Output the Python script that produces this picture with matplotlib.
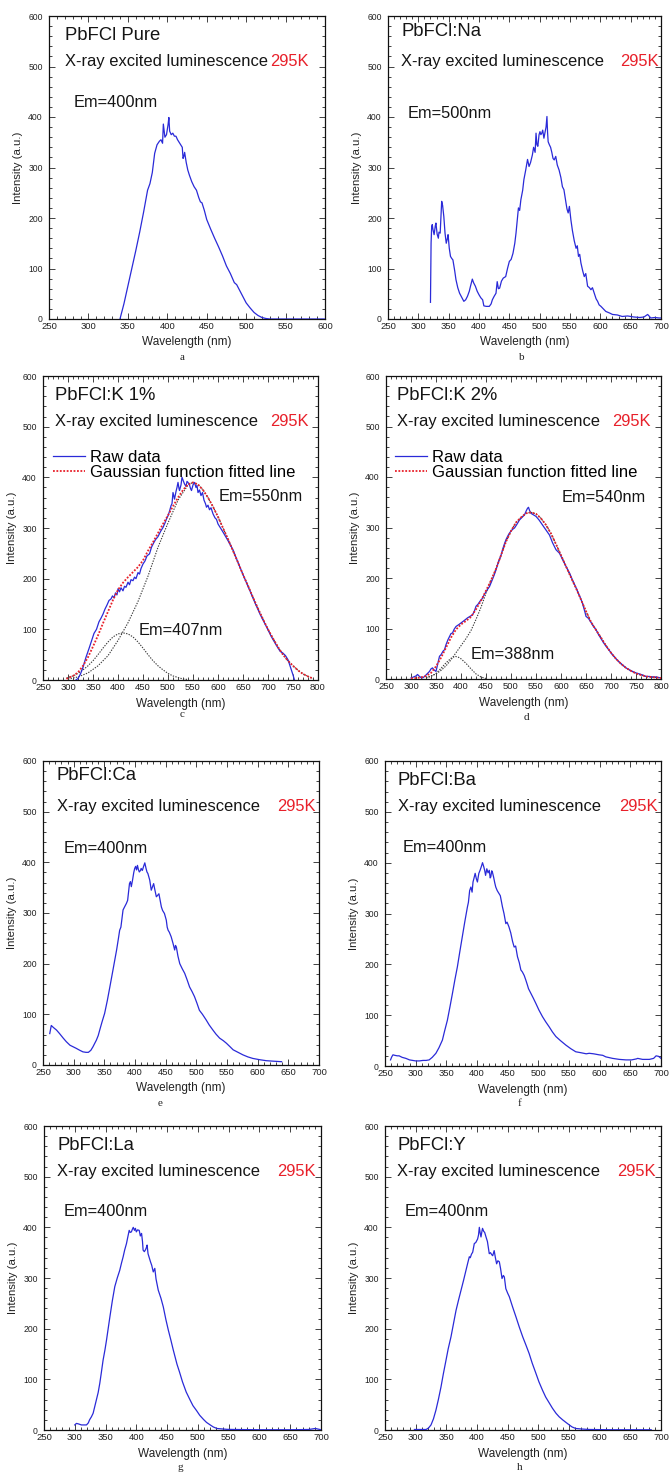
import matplotlib
matplotlib.use("Agg")
import matplotlib.pyplot as plt
from matplotlib.ticker import MultipleLocator

plt.rcParams['font.family'] = ['Liberation Sans', 'DejaVu Sans']

# ---------------- data (wavelength nm, intensity a.u.) ----------------
pure_spectrum = [(340, 0), (345, 30), (350, 65), (355, 100), (360, 135), (365, 172), (370, 212),
    (375, 255), (378, 268), (381, 290), (384, 328), (387, 345), (390, 352), (392, 355), (394, 348),
    (395, 386), (397, 360), (399, 365), (401, 385), (402, 399), (403, 372), (405, 365), (407, 368),
    (409, 362), (411, 362), (413, 355), (415, 350), (417, 345), (419, 340), (420, 318), (421, 322),
    (422, 330), (424, 310), (426, 295), (428, 285), (431, 272), (434, 262), (437, 255), (440, 240),
    (442, 232), (444, 230), (447, 215), (450, 197), (455, 178), (460, 160), (465, 143), (470, 125),
    (475, 105), (480, 90), (485, 72), (488, 68), (490, 62), (495, 47), (500, 32), (505, 22),
    (510, 13), (515, 7), (520, 3), (525, 1), (530, 0), (550, 0), (575, 0), (600, 0)]

na_spectrum = [(320, 33), (321, 150), (322, 183), (323, 187), (324, 178), (326, 167), (328, 185),
    (329, 190), (331, 168), (333, 160), (334, 172), (336, 170), (338.5, 233), (340, 225), (342, 203),
    (344, 170), (346, 150), (348, 160), (349, 167), (351, 140), (353, 124), (355, 120), (357, 117),
    (360, 95), (362, 78), (365, 62), (368, 51), (372, 42), (375, 35), (378, 38), (381, 45), (384, 55),
    (386, 65), (389, 79), (391, 72), (394, 65), (397, 55), (400, 48), (403, 42), (406, 38), (408, 26),
    (412, 25), (417, 25), (420, 30), (422, 38), (425, 45), (428, 51), (430, 74), (432, 60), (434, 61),
    (437, 75), (440, 81), (444, 84), (447, 100), (450, 114), (453, 118), (456, 130), (459, 150),
    (461, 170), (463, 195), (465, 220), (467, 215), (469, 236), (472, 255), (474, 276), (477, 295),
    (480, 316), (482.5, 302), (485, 310), (488, 325), (490, 340), (492.5, 330), (494, 368), (495.5, 345),
    (497, 342), (499, 365), (500.5, 371), (502, 365), (503.5, 368), (505, 374), (507, 358), (509, 370),
    (510.5, 380), (512, 401), (513, 370), (514, 351), (516, 345), (518, 340), (520, 330), (522, 318),
    (524, 315), (526.5, 322), (529, 305), (532, 295), (535, 280), (537.5, 262), (540, 256), (542, 240),
    (543.5, 229), (545, 218), (547, 210), (549, 223), (551.5, 196), (554, 175), (557, 155), (560, 140),
    (562, 145), (564, 124), (566, 128), (568, 111), (571, 95), (573.5, 84), (576, 90), (579, 65),
    (582, 62), (584.5, 58), (587, 62), (590, 51), (593, 40), (595.5, 35), (598, 28), (601, 25),
    (605, 20), (609, 15), (615, 12), (620, 9), (628, 8), (636, 5), (645, 6), (655, 4), (665, 3),
    (672, 4), (678, 9), (681, 5), (683, 2), (690, 3), (697, 2), (700, 2)]

k1_raw = [(316, 0), (320, 3), (325, 12), (330, 25), (336, 45), (342, 62), (348, 80), (352, 92),
    (357, 100), (362, 115), (366, 122), (370, 130), (374, 140), (378, 148), (382, 157), (386, 160),
    (389, 166), (392, 162), (395, 172), (398, 168), (400, 180), (403, 174), (406, 182), (410, 176),
    (413, 185), (416, 183), (420, 193), (423, 188), (426, 198), (430, 196), (433, 203), (436, 200),
    (440, 212), (443, 209), (446, 220), (450, 229), (454, 235), (458, 245), (463, 249), (467, 262),
    (471, 270), (475, 277), (480, 283), (485, 293), (490, 301), (494, 310), (497, 318), (500, 324),
    (503, 333), (506, 344), (508, 348), (510, 370), (512, 362), (513, 357), (516, 372), (518, 380),
    (520, 390), (522, 378), (523, 374), (526, 385), (528, 400), (531, 392), (533, 387), (536, 382),
    (538, 392), (540, 390), (543, 385), (545, 378), (547, 374), (550, 385), (553, 390), (556, 380),
    (558, 384), (560, 370), (563, 375), (566, 364), (569, 370), (572, 355), (575, 348), (577, 341),
    (580, 345), (583, 336), (586, 340), (590, 328), (594, 320), (597, 317), (600, 308), (610, 292),
    (620, 275), (630, 257), (640, 232), (650, 208), (663, 178), (675, 150), (685, 128), (697, 105),
    (707, 85), (717, 68), (724, 57), (730, 53), (735, 48), (740, 40), (745, 25), (750, 10), (753, 0)]
k1_fit = [(297, 2), (300, 4), (310, 8), (320, 15), (330, 28), (340, 45), (350, 66), (360, 88),
    (370, 112), (380, 135), (390, 158), (400, 178), (410, 192), (420, 203), (430, 213), (440, 223),
    (450, 236), (460, 255), (470, 272), (480, 290), (490, 308), (500, 325), (510, 343), (520, 360),
    (530, 375), (540, 386), (550, 390), (560, 386), (570, 375), (580, 360), (590, 342), (600, 322),
    (610, 300), (620, 278), (630, 255), (640, 232), (650, 208), (660, 186), (670, 163), (680, 141),
    (690, 120), (700, 100), (710, 82), (720, 65), (730, 50), (740, 38), (750, 28), (760, 19),
    (770, 12), (780, 7), (790, 3)]
k1_band550 = [(300, 2), (320, 6), (340, 14), (360, 28), (380, 48), (400, 78), (420, 113), (440, 155),
    (460, 205), (480, 262), (500, 310), (520, 355), (540, 385), (550, 390), (560, 386), (570, 375),
    (580, 360), (590, 342), (600, 322), (610, 300), (620, 278), (630, 255), (640, 232), (650, 208),
    (660, 186), (670, 163), (680, 141), (690, 120), (700, 100), (710, 82), (720, 65), (730, 50),
    (740, 38), (750, 28), (760, 19), (770, 12), (780, 7), (790, 3)]
k1_band407 = [(297, 4), (310, 8), (320, 13), (330, 20), (340, 28), (350, 38), (360, 50), (370, 63),
    (380, 75), (390, 85), (400, 91), (410, 93), (420, 91), (430, 85), (440, 75), (450, 63), (460, 50),
    (470, 38), (480, 28), (490, 20), (500, 13), (510, 8), (520, 5), (530, 2), (540, 1)]

k2_raw = [(300, 2), (305, 4), (310, 6), (313, 9), (317, 5), (320, 3), (323, 2), (327, 5), (330, 8),
    (334, 12), (337, 15), (340, 20), (343, 22), (346, 18), (350, 15), (353, 28), (357, 45), (360, 48),
    (364, 55), (367, 58), (370, 68), (374, 78), (377, 84), (380, 90), (383, 91), (386, 98), (390, 104),
    (393, 106), (396, 108), (400, 111), (404, 114), (408, 117), (413, 121), (418, 124), (423, 127),
    (427, 135), (430, 144), (434, 148), (438, 154), (443, 160), (447, 168), (452, 176), (457, 183),
    (462, 195), (466, 205), (470, 216), (475, 232), (480, 245), (483, 256), (487, 268), (490, 276),
    (494, 284), (497, 289), (500, 293), (504, 297), (507, 299), (511, 305), (514, 310), (517, 315),
    (520, 318), (524, 322), (527, 325), (530, 332), (533, 338), (535, 340), (537, 334), (540, 328),
    (545, 325), (550, 322), (556, 315), (563, 305), (570, 295), (577, 285), (583, 270), (590, 256),
    (594, 252), (597, 249), (603, 237), (610, 223), (617, 210), (623, 196), (630, 181), (637, 165),
    (643, 150), (648, 132), (650, 124), (655, 120), (660, 112), (665, 104), (670, 98), (675, 88),
    (680, 80), (685, 72), (690, 65), (697, 56), (703, 48), (710, 40), (717, 33), (723, 28), (730, 22),
    (737, 18), (743, 15), (750, 12), (757, 10), (763, 8), (770, 5), (777, 5), (783, 4), (790, 4),
    (795, 3), (800, 2)]
k2_fit = [(300, 1), (320, 3), (330, 6), (340, 12), (350, 25), (360, 42), (370, 62), (380, 82),
    (390, 98), (400, 108), (410, 115), (420, 123), (430, 138), (440, 155), (450, 175), (460, 195),
    (470, 218), (480, 245), (490, 272), (500, 293), (510, 310), (520, 320), (530, 328), (540, 330),
    (550, 327), (560, 318), (570, 305), (580, 288), (590, 267), (600, 245), (610, 223), (620, 201),
    (630, 180), (640, 157), (650, 134), (660, 113), (670, 97), (680, 82), (690, 66), (700, 52),
    (710, 40), (720, 30), (730, 22), (740, 16), (750, 11), (760, 8), (770, 5), (780, 4), (790, 3),
    (800, 2)]
k2_band540 = [(330, 3), (340, 6), (350, 10), (360, 17), (370, 26), (380, 38), (390, 52), (400, 66),
    (410, 80), (420, 96), (430, 118), (440, 142), (450, 170), (460, 195), (470, 218), (480, 245),
    (490, 272), (500, 293), (510, 310), (520, 320), (530, 328), (540, 330), (550, 327), (560, 318),
    (570, 305), (580, 288), (590, 267), (600, 245), (610, 223), (620, 201), (630, 180), (640, 157),
    (650, 134), (660, 113), (670, 97), (680, 82), (690, 66), (700, 52), (710, 40), (720, 30),
    (730, 22), (740, 16), (750, 11), (760, 8), (770, 5), (780, 4), (790, 3), (800, 2)]
k2_band388 = [(330, 2), (340, 5), (350, 11), (360, 21), (370, 32), (380, 41), (388, 45), (395, 43),
    (400, 40), (410, 31), (420, 20), (430, 10), (440, 4), (450, 1)]

ca_spectrum = [(261, 62), (263.5, 78), (267, 74), (272, 69), (277, 62), (283, 53), (288, 46), (294, 39),
    (299, 36), (304, 33), (310, 29), (315, 26), (320, 25), (324, 25), (328, 29), (331.5, 36), (334, 42),
    (337, 49), (340, 58), (342.5, 69), (346, 84), (350.5, 102), (355, 128), (359, 154), (364, 187),
    (367, 207), (370, 227), (373, 250), (375, 266), (377, 272), (380.5, 306), (383, 312), (386, 319),
    (388, 325), (391, 358), (392.5, 362), (394, 352), (396, 365), (398, 380), (399.5, 388), (401, 392),
    (402.5, 385), (404, 394), (405.5, 386), (407, 381), (409, 384), (410, 388), (412, 384), (414, 392),
    (416, 399), (418, 388), (419.5, 381), (421, 378), (424, 365), (426.5, 345), (428, 350), (430.4, 358),
    (432, 348), (434.8, 332), (437, 335), (439, 338), (441, 325), (443, 312), (445, 305), (448, 299),
    (451, 286), (452.5, 272), (454, 266), (456, 262), (459, 253), (462, 240), (464.7, 227), (466, 236),
    (467.4, 233), (470, 215), (473, 200), (477, 190), (481, 181), (485, 168), (489, 154), (493, 145),
    (497, 135), (501, 122), (505, 108), (510, 100), (516, 89), (521, 79), (527, 69), (532, 61),
    (538, 53), (544, 48), (549, 43), (555, 36), (560, 30), (568, 25), (576, 20), (584, 16), (592, 13),
    (603, 10.5), (614, 8.5), (626, 7.5), (639, 6.5)]

ba_spectrum = [(259, 12), (261, 18), (263, 22), (266, 21), (270, 20), (273, 20), (278, 17), (284, 15),
    (290, 12), (295, 11), (300, 10), (306, 10), (312, 11), (317, 11), (322, 12), (327, 17), (333, 25),
    (338, 36), (343.6, 51), (347, 68), (351.7, 90), (356, 117), (360, 143), (364, 170), (368, 195),
    (372, 225), (376, 254), (380, 283), (384.4, 313), (386, 322), (388, 345), (390, 352), (392, 342),
    (393.5, 362), (395, 369), (397, 379), (399, 368), (400.7, 362), (402, 372), (403, 379), (405, 385),
    (407, 392), (409, 400), (411, 392), (412.5, 385), (414, 375), (416, 388), (418, 380), (420, 385),
    (421.5, 370), (422.5, 372), (424, 384), (425, 382), (427, 372), (429, 360), (430.6, 352), (433, 345),
    (436, 339), (438, 335), (441.5, 313), (444, 300), (447, 280), (449, 283), (452, 274), (455, 262),
    (458, 245), (460.6, 234), (463, 236), (466, 215), (469, 203), (471.5, 189), (474, 185), (477, 178),
    (479.6, 169), (482, 160), (484, 152), (487.8, 143), (492, 133), (496, 123), (501, 110), (506.8, 97),
    (512, 87), (517.7, 77), (523, 67), (528.6, 58), (536, 50), (545, 41), (553, 34), (561, 28),
    (570, 26), (578, 24), (583, 25), (590, 24), (599, 22), (605, 21), (610, 18), (621, 15), (632, 13),
    (643, 12), (652, 12), (660, 14), (662, 15), (670, 13), (681, 13), (688, 15), (692, 20), (696, 19),
    (700, 15)]

la_spectrum = [(300, 10), (302.7, 13), (306, 12), (310.8, 10), (315, 10), (319, 10), (322, 14),
    (324, 20), (327, 26), (329.8, 33), (332, 44), (335, 59), (338, 74), (340.6, 92), (343, 112),
    (346, 138), (349, 158), (351.5, 177), (354, 198), (357, 223), (361, 255), (365, 283), (369, 300),
    (373, 315), (376, 330), (378.6, 342), (381, 355), (384, 368), (386, 380), (388.4, 394), (390, 390),
    (392, 391), (393.5, 396), (395, 400), (397, 394), (398.5, 398), (400, 391), (402, 395), (404.7, 394),
    (406.5, 383), (408.5, 388), (410, 372), (411, 355), (413, 352), (415, 356), (416.6, 361),
    (417.5, 365), (419, 348), (421, 340), (423, 332), (425, 325), (427.5, 312), (430, 319), (432, 298),
    (435.6, 276), (440, 260), (443.8, 243), (448, 218), (452, 197), (456, 178), (460, 158), (466, 130),
    (470, 115), (475, 95), (481, 75), (487, 60), (492, 48), (498, 38), (503, 29), (509, 21), (514, 15),
    (520, 10), (525, 6), (531, 3), (540, 2), (547, 1.3), (560, 1), (600, 0.5), (650, 0.5), (680, 1),
    (690.8, 3), (700, 0.5)]

y_spectrum = [(298, 1), (305, 1), (312, 1), (317, 1), (321, 4), (325, 10), (329, 22), (333, 39),
    (337, 60), (341.3, 85), (345, 110), (349.5, 138), (353, 160), (357.6, 184), (362, 212),
    (365.8, 236), (370, 257), (374, 276), (378, 295), (382, 315), (385, 330), (387.5, 342), (389, 340),
    (391, 347), (393, 351), (395.6, 368), (398, 370), (401, 377), (402.5, 385), (403.8, 400), (405, 390),
    (406.5, 381), (408, 392), (409, 398), (411, 392), (412.5, 390), (414.7, 381), (417, 372),
    (418.5, 360), (420, 348), (422, 350), (424, 346), (425.6, 344), (428, 354), (430, 340), (432, 328),
    (434, 334), (436.4, 332), (438.5, 318), (440.8, 299), (443, 305), (444.6, 302), (447, 279),
    (450, 270), (452.7, 263), (458, 243), (463.6, 223), (469, 203), (474.5, 184), (480, 167),
    (485, 151), (490, 132), (496, 112), (501, 95), (507, 78), (512, 65), (518, 53), (523, 43),
    (528.8, 33), (534, 26), (539.7, 20), (545, 15), (550.5, 10), (555, 6), (561, 3), (570, 2),
    (583, 1), (620, 0.5), (660, 0.5), (684, 0.5)]

sample_names = ["PbFCl Pure", "PbFCl:Na", "PbFCl:K 1%", "PbFCl:K 2%",
                "PbFCl:Ca", "PbFCl:Ba", "PbFCl:La", "PbFCl:Y"]
em_labels = ["Em=400nm", "Em=500nm", "Em=550nm", "Em=540nm",
             "Em=400nm", "Em=400nm", "Em=400nm", "Em=400nm"]
em_minor_labels = [None, None, "Em=407nm", "Em=388nm", None, None, None, None]
panel_letters = ["a", "b", "c", "d", "e", "f", "g", "h"]
x_max = [600, 700, 800, 800, 700, 700, 700, 700]
raw_series = [pure_spectrum, na_spectrum, k1_raw, k2_raw,
              ca_spectrum, ba_spectrum, la_spectrum, y_spectrum]
fit_series = [None, None, k1_fit, k2_fit, None, None, None, None]
band_series = [None, None, [k1_band550, k1_band407], [k2_band540, k2_band388],
               None, None, None, None]

# ---------------- layout (pixels) ----------------
W, H = 672, 1474
rects = [(49, 16, 325, 319), (388, 16, 661, 319),
         (43, 376, 318, 680), (386, 376, 661, 679),
         (43, 761, 319, 1065), (385, 761, 661, 1066),
         (44, 1126, 321, 1430), (385, 1126, 661, 1430)]
# text positions in axes fraction
title_pos = [(0.058, 0.937), (0.048, 0.948), (0.044, 0.937), (0.039, 0.937),
             (0.049, 0.951), (0.046, 0.935), (0.048, 0.937), (0.044, 0.937)]
sub_y = [0.849, 0.849, 0.850, 0.850, 0.850, 0.850, 0.850, 0.850]
k_x = [0.800, 0.851, 0.825, 0.822, 0.847, 0.847, 0.842, 0.840]
em_pos = [(0.088, 0.716), (0.072, 0.679), (0.640, 0.603), (0.640, 0.600),
          (0.074, 0.713), (0.064, 0.717), (0.070, 0.718), (0.070, 0.718)]
em2_pos = [None, None, (0.347, 0.164), (0.309, 0.080), None, None, None, None]
letter_pos = [(182, 358), (522, 358), (182, 715), (526, 718),
              (160, 1104), (520, 1104), (180, 1468), (520, 1468)]

BLUE = '#2a2ad8'
RED = '#e8202a'
TXT = '#151515'

fig = plt.figure(figsize=(W / 100, H / 100), dpi=100)
fig.patch.set_facecolor('white')

for i in range(8):
    l, t, r, b = rects[i]
    ax = fig.add_axes([l / W, 1 - b / H, (r - l) / W, (b - t) / H])
    hpx = b - t
    wpx = r - l
    xs = [p[0] for p in raw_series[i]]
    ys = [p[1] for p in raw_series[i]]
    raw_line, = ax.plot(xs, ys, color=BLUE, lw=0.9, label="Raw data", zorder=3)
    if band_series[i] is not None:
        for band in band_series[i]:
            ax.plot([p[0] for p in band], [p[1] for p in band], color='#3a3a3a',
                    lw=0.8, dashes=(1.2, 1.2), zorder=2)
    if fit_series[i] is not None:
        fit_line, = ax.plot([p[0] for p in fit_series[i]], [p[1] for p in fit_series[i]],
                            color=RED, lw=1.3, dashes=(1.0, 0.9), label="Gaussian function fitted line",
                            zorder=4)
        ax.legend(handles=[raw_line, fit_line], loc='upper left',
                  bbox_to_anchor=(title_pos[i][0] - 0.006, 0.757), frameon=False,
                  fontsize=12, handlelength=1.9, handletextpad=0.3, labelspacing=0.0,
                  borderpad=0, borderaxespad=0)

    ax.set_xlim(250, x_max[i])
    ax.set_ylim(0, 600)
    ax.xaxis.set_major_locator(MultipleLocator(50))
    ax.xaxis.set_minor_locator(MultipleLocator(10))
    ax.yaxis.set_major_locator(MultipleLocator(100))
    ax.yaxis.set_minor_locator(MultipleLocator(20))
    ax.tick_params(which='both', direction='in', top=True, right=True, width=0.6, color='#222222')
    ax.tick_params(which='major', length=4)
    ax.tick_params(which='minor', length=2)
    ax.tick_params(axis='x', labelsize=6.8, pad=2.5, labelcolor='#222222')
    ax.tick_params(axis='y', labelsize=6.2, pad=4.5, labelcolor='#222222')
    for s in ax.spines.values():
        s.set_linewidth(0.9)
        s.set_color('#111111')

    ax.set_xlabel("Wavelength (nm)", fontsize=8.5, color='#222222', va='center')
    ax.xaxis.set_label_coords(0.5, -23.5 / hpx)
    ax.set_ylabel("Intensity (a.u.)", fontsize=8.2, color='#222222', va='center')
    ax.yaxis.set_label_coords(-31.0 / wpx, 0.5)

    tx, ty = title_pos[i]
    ax.text(tx, ty, sample_names[i], transform=ax.transAxes, fontsize=13.3, color=TXT,
            ha='left', va='center')
    ax.text(tx, sub_y[i], "X-ray excited luminescence", transform=ax.transAxes, fontsize=11.9,
            color=TXT, ha='left', va='center')
    ax.text(k_x[i], sub_y[i], "295K", transform=ax.transAxes, fontsize=11.9, color=RED,
            ha='left', va='center')
    ex, ey = em_pos[i]
    ax.text(ex, ey, em_labels[i], transform=ax.transAxes, fontsize=11.8, color=TXT,
            ha='left', va='center')
    if em_minor_labels[i] is not None:
        ex2, ey2 = em2_pos[i]
        ax.text(ex2, ey2, em_minor_labels[i], transform=ax.transAxes, fontsize=11.8,
                color=TXT, ha='left', va='center')

    lx, ly = letter_pos[i]
    fig.text(lx / W, 1 - ly / H, panel_letters[i], fontsize=8, family='Liberation Serif',
             color='#222222', ha='center', va='center')

fig.savefig("out.png", dpi=100, facecolor='white')
